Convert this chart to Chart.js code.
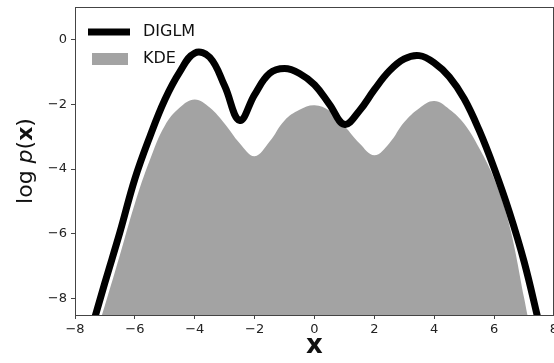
<!DOCTYPE html>
<html>
<head>
<meta charset="utf-8">
<script src="https://cdn.jsdelivr.net/npm/chart.js@4/dist/chart.umd.min.js"></script>
<style>
  html, body { margin: 0; padding: 0; background: #fff; }
  #plot { display: block; }
</style>
</head>
<body>
<canvas id="plot" width="554" height="363"></canvas>
<script>
// grid of x positions
const xs = [-7.5, -7, -6.5, -6, -5.5, -5, -4.5, -4, -3.5, -3, -2.5, -2, -1.5, -1, -0.5,
  0, 0.5, 1, 1.5, 2, 2.5, 3, 3.5, 4, 4.5, 5, 5.5, 6, 6.5, 7, 7.5];
const diglm = [-9.1, -7.5, -5.95, -4.3, -3.0, -1.86, -1.0, -0.42, -0.55, -1.44, -2.5, -1.7, -1.05, -0.9, -1.05,
  -1.4, -2.0, -2.62, -2.2, -1.55, -0.97, -0.6, -0.5, -0.72, -1.15, -1.83, -2.8, -3.97, -5.3, -6.85, -8.75];
const kde = [-9.7, -8.2, -6.65, -5.06, -3.72, -2.66, -2.1, -1.85, -2.1, -2.6, -3.2, -3.6, -3.15, -2.5, -2.17,
  -2.03, -2.2, -2.67, -3.2, -3.57, -3.2, -2.55, -2.12, -1.9, -2.15, -2.6, -3.35, -4.3, -5.7, -7.97, -10.4];
const xTicks = [-8, -6, -4, -2, 0, 2, 4, 6, 8];
const yTicks = [-8, -6, -4, -2, 0];
const seriesNames = ["DIGLM", "KDE"];

const lineColor = "#000000";
const fillColor = "#a3a3a3";
const axisColor = "#444444";

function fmt(v) {
  return v < 0 ? "\u2212" + Math.abs(v) : String(v);
}

// no extra room for half tick labels, the plot box is fixed by layout.padding
function fixScale(s, size) {
  if (s.isHorizontal()) s.height = size;
  else s.width = size;
  s.paddingTop = 0;
  s.paddingBottom = 0;
  s.paddingLeft = 0;
  s.paddingRight = 0;
}

// top and right spines, like matplotlib's box
const framePlugin = {
  id: "frame",
  afterDraw(chart) {
    const { ctx, chartArea: a } = chart;
    ctx.save();
    ctx.strokeStyle = axisColor;
    ctx.lineWidth = 1;
    ctx.beginPath();
    ctx.moveTo(a.left, a.top + 0.5);
    ctx.lineTo(a.right, a.top + 0.5);
    ctx.moveTo(a.right - 0.5, a.top);
    ctx.lineTo(a.right - 0.5, a.bottom);
    ctx.stroke();
    ctx.restore();
  },
};

// axis titles with mixed styles + legend in the upper-left corner
const labelsPlugin = {
  id: "labels",
  afterDraw(chart) {
    const { ctx, chartArea: a } = chart;
    ctx.save();
    ctx.fillStyle = "#111";

    // y title: log p(x), p italic, x bold
    const parts = [
      ["log ", "22px 'DejaVu Sans'"],
      ["p", "italic 22px 'DejaVu Sans'"],
      ["(", "22px 'DejaVu Sans'"],
      ["x", "bold 22px 'DejaVu Sans'"],
      [")", "22px 'DejaVu Sans'"],
    ];
    let total = 0;
    parts.forEach(function (p) {
      ctx.font = p[1];
      total += ctx.measureText(p[0]).width;
    });
    ctx.translate(26, (a.top + a.bottom) / 2);
    ctx.rotate(-Math.PI / 2);
    ctx.textBaseline = "middle";
    ctx.textAlign = "left";
    let x = -total / 2;
    parts.forEach(function (p) {
      ctx.font = p[1];
      ctx.fillText(p[0], x, 0);
      x += ctx.measureText(p[0]).width;
    });
    ctx.setTransform(1, 0, 0, 1, 0, 0);

    // x title
    ctx.font = "bold 26px 'DejaVu Sans'";
    ctx.textAlign = "center";
    ctx.textBaseline = "middle";
    ctx.fillText("x", (a.left + a.right) / 2, 346);

    // legend
    ctx.strokeStyle = lineColor;
    ctx.lineWidth = 7;
    ctx.beginPath();
    ctx.moveTo(88, 32);
    ctx.lineTo(130, 32);
    ctx.stroke();
    ctx.fillStyle = fillColor;
    ctx.fillRect(92, 53, 36, 12);
    ctx.fillStyle = "#111";
    ctx.font = "16px 'DejaVu Sans'";
    ctx.textAlign = "left";
    ctx.fillText(seriesNames[0], 143, 32);
    ctx.fillText(seriesNames[1], 143, 59);
    ctx.restore();
  },
};

new Chart(document.getElementById("plot"), {
  type: "line",
  data: {
    datasets: [
      {
        label: seriesNames[0],
        data: xs.map((x, i) => ({ x: x, y: diglm[i] })),
        borderColor: lineColor,
        borderWidth: 7,
        pointRadius: 0,
        fill: false,
        tension: 0.4,
        order: 0,
      },
      {
        label: seriesNames[1],
        data: xs.map((x, i) => ({ x: x, y: kde[i] })),
        borderWidth: 0,
        borderColor: fillColor,
        backgroundColor: fillColor,
        pointRadius: 0,
        fill: "start",
        tension: 0.4,
        order: 1,
      },
    ],
  },
  options: {
    responsive: false,
    animation: false,
    layout: { autoPadding: false, padding: { top: 7, right: -1, left: 0, bottom: 0 } },
    plugins: { legend: { display: false }, tooltip: { enabled: false } },
    scales: {
      x: {
        type: "linear",
        min: -8,
        max: 8,
        afterBuildTicks: (s) => { s.ticks = xTicks.map((v) => ({ value: v })); },
        afterFit: (s) => fixScale(s, 48),
        grid: { drawOnChartArea: false, drawTicks: true, tickLength: 4, color: axisColor },
        border: { color: axisColor, width: 1 },
        ticks: {
          callback: fmt,
          color: "#222",
          padding: 3,
          maxRotation: 0,
          font: { family: "DejaVu Sans", size: 13 },
        },
      },
      y: {
        type: "linear",
        min: -8.5,
        max: 1,
        afterBuildTicks: (s) => { s.ticks = yTicks.map((v) => ({ value: v })); },
        afterFit: (s) => fixScale(s, 75),
        grid: { drawOnChartArea: false, drawTicks: true, tickLength: 4, color: axisColor },
        border: { color: axisColor, width: 1 },
        ticks: {
          callback: fmt,
          color: "#222",
          padding: 4,
          font: { family: "DejaVu Sans", size: 13 },
        },
      },
    },
  },
  plugins: [framePlugin, labelsPlugin],
});
</script>
</body>
</html>
